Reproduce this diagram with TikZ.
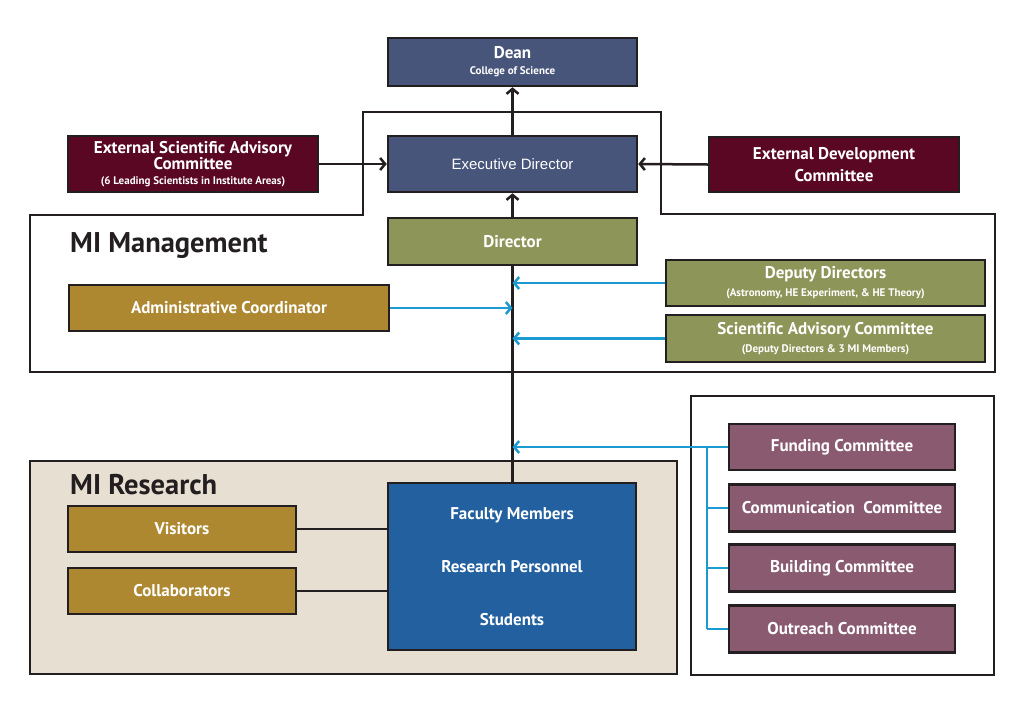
\documentclass[tikz,border=0pt]{standalone}
\usepackage{fontspec}
\setmainfont{PT Sans}
\newfontfamily\arialf{Liberation Sans}
\usetikzlibrary{arrows.meta}
\definecolor{frame}{HTML}{231F20}
\definecolor{navy}{HTML}{48557A}
\definecolor{maroon}{HTML}{5A0723}
\definecolor{olive}{HTML}{8E9558}
\definecolor{gold}{HTML}{AE8830}
\definecolor{mauve}{HTML}{8A5B70}
\definecolor{fblue}{HTML}{2260A0}
\definecolor{beige}{HTML}{E7DFD2}
\definecolor{cyanline}{HTML}{1B9BD1}
\tikzset{
  box/.style={draw=frame, line width=2.5pt, text=white, align=center, inner sep=0pt,
    font=\bfseries\fontsize{17}{18}\selectfont},
  panel/.style={draw=frame, line width=2.5pt},
  conn/.style={draw=frame, line width=2.5pt},
  bconn/.style={draw=cyanline, line width=2.5pt},
  tip/.style={-{Straight Barb[length=5pt,width=12pt]}},
  title/.style={anchor=west, text=frame, font=\bfseries\fontsize{28.5}{30}\selectfont, inner sep=0pt}
}
\newcommand{\smalltext}{\fontsize{11}{13}\selectfont}
\begin{document}
\begin{tikzpicture}[x=1pt,y=-1pt]
\useasboundingbox[fill=white] (0,0) rectangle (1024,723);
% panels
\draw[panel] (363,112) -- (661,112) -- (661,214) -- (995,214) -- (995,372) -- (30,372) -- (30,215) -- (363,215) -- cycle;
\draw[panel] (691,396) rectangle (994,675);
\draw[panel, fill=beige] (30,461) rectangle (677,674);
\node[title] (mgmt) at (70,246) {MI Management};
\node[title] (res) at (70,485) {MI Research};
% nodes
\node[box, fill=navy, minimum width=249pt, minimum height=48pt] (dean) at (512.5,62)
  {Dean\\[-2pt]{\smalltext College of Science}};
\node[box, fill=navy, minimum width=249pt, minimum height=56pt, font=\arialf\fontsize{15}{16}\selectfont] (exec) at (512.5,164) {Executive Director};
\node[box, fill=maroon, minimum width=250pt, minimum height=56pt, font=\bfseries\fontsize{17}{14.5}\selectfont] (esac) at (193,164)
  {External Scientific Advisory\\Committee\\{\smalltext (6 Leading Scientists in Institute Areas)}};
\node[box, fill=maroon, minimum width=250pt, minimum height=55pt, font=\bfseries\fontsize{17}{22}\selectfont] (edc) at (834,164.5)
  {External Development\\Committee};
\node[box, fill=olive, minimum width=249pt, minimum height=47pt] (dir) at (512.5,241.5) {Director};
\node[box, fill=gold, minimum width=320pt, minimum height=46pt] (admin) at (229,308) {Administrative Coordinator};
\node[box, fill=olive, minimum width=319pt, minimum height=46pt] (dep) at (825.5,283)
  {Deputy Directors\\{\smalltext (Astronomy, HE Experiment, \& HE Theory)}};
\node[box, fill=olive, minimum width=319pt, minimum height=47pt] (sac) at (825.5,338.5)
  {Scientific Advisory Committee\\{\smalltext (Deputy Directors \& 3 MI Members)}};
\node[box, fill=mauve, minimum width=226pt, minimum height=46pt] (fund) at (842,447) {Funding Committee};
\node[box, fill=mauve, minimum width=226pt, minimum height=47pt] (comm) at (842,508) {Communication\ \ Committee};
\node[box, fill=mauve, minimum width=226pt, minimum height=47pt] (build) at (842,568) {Building Committee};
\node[box, fill=mauve, minimum width=226pt, minimum height=47pt] (outr) at (842,629) {Outreach Committee};
\node[box, fill=gold, minimum width=228pt, minimum height=46pt] (vis) at (182,529) {Visitors};
\node[box, fill=gold, minimum width=228pt, minimum height=46pt] (coll) at (182,591) {Collaborators};
\node[box, fill=fblue, minimum width=248pt, minimum height=167pt, font=\bfseries\fontsize{17}{53}\selectfont] (fac) at (512,566.5)
  {Faculty Members\\Research Personnel\\Students};
% bus coordinates
\coordinate (bTop) at (707,447);
\coordinate (bBot) at (707,629);
% black connectors
\draw[conn, tip] (exec.north) -- (dean.south);
\draw[conn, tip] (dir.north) -- (exec.south);
\draw[conn, tip] (esac.east) -- (exec.west);
\draw[conn, tip] (edc.west) -- (exec.east);
\draw[conn] (dir.south) -- (fac.north -| dir.south);
\draw[conn] (vis.east) -- (vis.east -| fac.west);
\draw[conn] (coll.east) -- (coll.east -| fac.west);
% blue connectors
\draw[bconn, tip] (admin.east) -- (admin.east -| dir.south);
\draw[bconn, tip] (dep.west) -- (dep.west -| dir.south);
\draw[bconn, tip] (sac.west) -- (sac.west -| dir.south);
\draw[bconn, tip] (fund.west) -- (fund.west -| dir.south);
\draw[bconn] (bTop) -- (bBot);
\draw[bconn] (comm.west -| bTop) -- (comm.west);
\draw[bconn] (build.west -| bTop) -- (build.west);
\draw[bconn] (bBot) -- (outr.west);
\end{tikzpicture}
\end{document}
